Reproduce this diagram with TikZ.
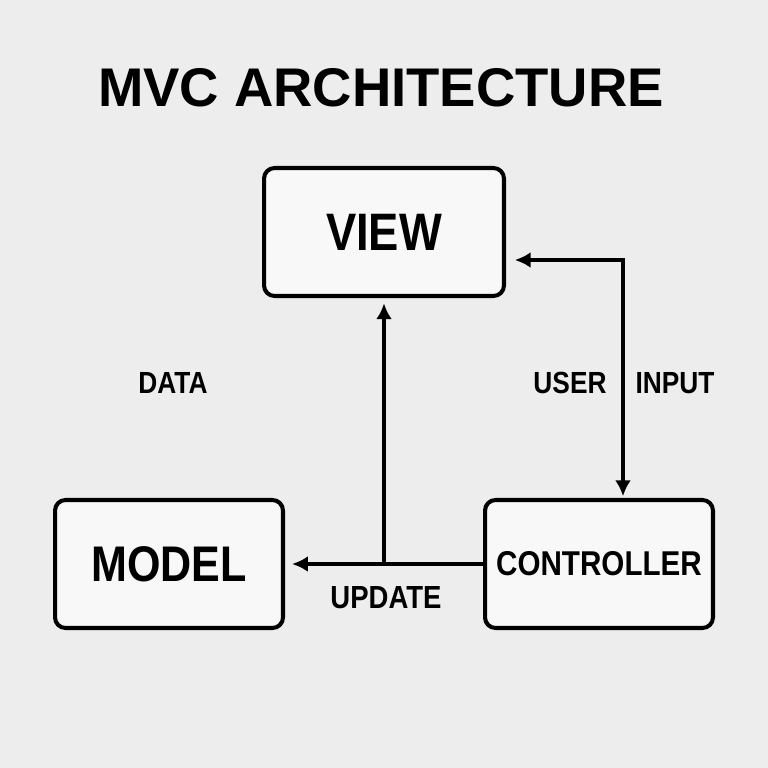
\documentclass[tikz,border=0pt]{standalone}
\usepackage{fontspec}
\setmainfont{Liberation Sans}
\newfontfamily\narrowfont[FakeStretch=0.86]{Liberation Sans}
\usepackage{xcolor}
\usepackage{tikz}
\usetikzlibrary{arrows.meta, calc}

\definecolor{paper}{HTML}{EDEDED}
\definecolor{boxfill}{HTML}{F8F8F8}

\begin{document}
\begin{tikzpicture}[x=0.02cm, y=-0.02cm, >={Latex[length=9pt,width=9pt]},
    box/.style={draw, line width=2.3pt, rounded corners=6pt, fill=boxfill,
        minimum width=4.56cm, minimum height=2.56cm, inner sep=0pt},
    lbl/.style={font=\narrowfont\bfseries\fontsize{17.4}{20}\selectfont},
    link/.style={line width=2pt}]
    % 1. Nền
    \useasboundingbox (0,0) rectangle (768,768);
    \fill[paper] (0,0) rectangle (768,768);

    % 2. Tiêu đề
    \node (title) at (381,88) {\bfseries\fontsize{31}{36}\selectfont MVC ARCHITECTURE};

    % 3. Ba khối
    \node[box, minimum width=4.8cm] (view) at (384,232)
        {\narrowfont\bfseries\fontsize{30}{34}\selectfont VIEW};
    \node[box] (model) at (169,564)
        {\narrowfont\bfseries\fontsize{28.5}{34}\selectfont MODEL};
    \node[box] (controller) at (599,564)
        {\narrowfont\bfseries\fontsize{19.6}{24}\selectfont CONTROLLER};

    % 4. Mũi tên
    \coordinate (corner) at (623,260);
    \draw[link, ->, shorten >=4pt] (controller.west) -- (model.east);
    \draw[link, ->, shorten >=3pt] (view.south |- controller.west) -- (view.south);
    \draw[link, <->, shorten <=5pt, shorten >=1pt]
        (view.east |- corner) -- (corner) -- (corner |- controller.north);

    % 5. Nhãn
    \node[lbl] (data) at (173,383) {DATA};
    \node[lbl] (user) at (570,383) {USER};
    \node[lbl] (input) at (675,383) {INPUT};
    \node[lbl, font=\narrowfont\bfseries\fontsize{18.2}{22}\selectfont] (update) at (386,598) {UPDATE};
\end{tikzpicture}
\end{document}
